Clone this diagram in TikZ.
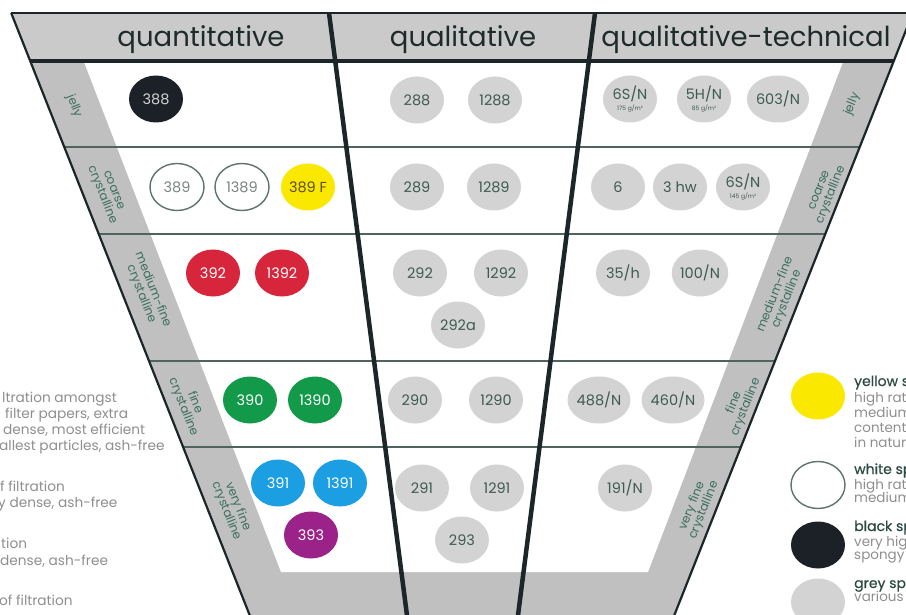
\documentclass[tikz,border=0pt]{standalone}
\usepackage{fontspec}
\setmainfont{Poppins}
\newfontfamily\legfont[FakeBold=0.6]{Poppins}
\usetikzlibrary{shapes.geometric}
\definecolor{hdrgray}{HTML}{CACACA}
\definecolor{stripgray}{HTML}{C0C0C0}
\definecolor{darkline}{HTML}{1C2628}
\definecolor{rowline}{HTML}{4E645D}
\definecolor{lblgreen}{HTML}{3A6E5E}
\definecolor{hdrtext}{HTML}{1E2B2A}
\definecolor{bubgray}{HTML}{D3D3D3}
\definecolor{bubtext}{HTML}{3E5A52}
\definecolor{bubblack}{HTML}{1B2127}
\definecolor{bubred}{HTML}{D7253B}
\definecolor{bubgreen}{HTML}{129A4A}
\definecolor{bubblue}{HTML}{1C9EE3}
\definecolor{bubpurple}{HTML}{9B2288}
\definecolor{bubyellow}{HTML}{FBE800}
\definecolor{yelltext}{HTML}{5C4D1E}
\definecolor{whiteline}{HTML}{5E736C}
\definecolor{whitetext}{HTML}{7A8580}
\definecolor{sidegray}{HTML}{8E8E8E}
\definecolor{legtitle}{HTML}{2D4A42}
\begin{document}
\begin{tikzpicture}[x=1pt,y=-1pt,
  hdr/.style={anchor=base,font=\fontsize{27.5}{28}\selectfont,text=hdrtext,inner sep=0pt},
  rowlbl/.style={font=\fontsize{12}{12.5}\selectfont,text=lblgreen,align=center,inner sep=0pt},
  lrow/.style={rowlbl,rotate=-68.4},
  rrow/.style={rowlbl,rotate=68.4},
  bub/.style={ellipse,minimum width=54pt,minimum height=47pt,inner sep=0pt,
    font=\fontsize{14.5}{15}\selectfont,align=center},
  gbub/.style={bub,fill=bubgray,text=bubtext},
  wbub/.style={bub,fill=white,draw=whiteline,line width=1.4pt,text=whitetext},
  cbub/.style={bub,fill=#1,text=white},
  sidetxt/.style={anchor=base west,font=\fontsize{13.7}{14}\selectfont,text=sidegray,inner sep=0pt},
  legt/.style={anchor=base west,font=\fontsize{14}{15}\selectfont\legfont,text=legtitle,inner sep=0pt},
  legb/.style={anchor=base west,font=\fontsize{13.5}{15}\selectfont,text=sidegray,inner sep=0pt},
  rowrule/.style={draw=rowline,line width=1.5pt},
  divider/.style={draw=darkline,line width=4.5pt},
  edge/.style={draw=darkline,line width=2.2pt}
]
\useasboundingbox (0,0) rectangle (906,615);
% funnel body
\fill[stripgray] (11.2,13) -- (912.8,13) -- (672.4,620) -- (251.6,620) -- cycle;
\fill[white] (84,62) -- (843,62) -- (648,572) -- (281,572) -- cycle;
% row rules
\draw[rowrule] (64.3,147) -- (859.7,147);
\draw[rowrule] (98.7,234) -- (825.3,234);
\draw[rowrule] (149.0,361) -- (775.0,361);
\draw[rowrule] (183.1,447) -- (740.9,447);
% header band
\fill[hdrgray] (11.2,13) -- (912.8,13) -- (893.8,61) -- (30.2,61) -- cycle;
\draw[draw=darkline,line width=4pt] (30.2,61) -- (893.8,61);
% dividers
\draw[divider] (329,13) -- (407.6,620);
\draw[divider] (595,13) -- (517.4,620);
% outer edges
\draw[edge] (11.2,13) -- (251.6,620);
\draw[edge] (912.8,13) -- (672.4,620);
\draw[draw=darkline,line width=2pt] (11.2,13) -- (912.8,13);
% header texts
\node[hdr] (h1) at (201,47) {quantitative};
\node[hdr] (h2) at (463,47) {qualitative};
\node[hdr] (h3) at (746,47) {qualitative-technical};
% row labels left
\node[lrow] (l1) at (74,106) {jelly};
\node[lrow] (l2) at (107,193) {coarse\\crystalline};
\node[lrow] (l3) at (147,292) {medium-fine\\crystalline};
\node[lrow] (l4) at (189,405) {fine\\crystalline};
\node[lrow] (l5) at (232,509) {very fine\\crystalline};
% row labels right
\node[rrow] (r1) at (852,104) {jelly};
\node[rrow] (r2) at (826,193) {coarse\\crystalline};
\node[rrow] (r3) at (781,297) {medium-fine\\crystalline};
\node[rrow] (r4) at (740,405) {fine\\crystalline};
\node[rrow] (r5) at (698,508) {very fine\\crystalline};
% row 1
\node[bub,fill=bubblack,text=bubgray] (b388) at (156,99) {388};
\node[gbub] (b288) at (417,100) {288};
\node[gbub] (b1288) at (495,100) {1288};
\node[gbub] (b6SNa) at (630,99) {6S/N\\[-4pt]{\fontsize{6}{6}\selectfont 175 g/m²}};
\node[gbub] (b5HN) at (704,99) {5H/N\\[-4pt]{\fontsize{6}{6}\selectfont 85 g/m²}};
\node[gbub] (b603N) at (778,99) {603/N};
% row 2
\node[wbub] (b389) at (177,187) {389};
\node[wbub] (b1389) at (242,187) {1389};
\node[bub,fill=bubyellow,text=yelltext] (b389F) at (308,187) {389 F};
\node[gbub] (b289) at (417,187) {289};
\node[gbub] (b1289) at (494,187) {1289};
\node[gbub] (b6) at (618,187) {6};
\node[gbub] (b3hw) at (680,187) {3 hw};
\node[gbub] (b6SNb) at (743,187) {6S/N\\[-4pt]{\fontsize{6}{6}\selectfont 145 g/m²}};
% row 3
\node[cbub=bubred] (b392) at (213,273) {392};
\node[cbub=bubred] (b1392) at (282,273) {1392};
\node[gbub] (b292) at (420,273) {292};
\node[gbub] (b1292) at (501,273) {1292};
\node[gbub] (b292a) at (458,325) {292a};
\node[gbub] (b35h) at (623,273) {35/h};
\node[gbub] (b100N) at (700,273) {100/N};
% row 4
\node[cbub=bubgreen] (b390) at (250,400) {390};
\node[cbub=bubgreen] (b1390) at (315,400) {1390};
\node[gbub] (b290) at (415,400) {290};
\node[gbub] (b1290) at (496,400) {1290};
\node[gbub] (b488N) at (599,400) {488/N};
\node[gbub] (b460N) at (673,400) {460/N};
% row 5
\node[cbub=bubblue] (b391) at (278,483) {391};
\node[cbub=bubblue] (b1391) at (340,483) {1391};
\node[cbub=bubpurple] (b393) at (311,535) {393};
\node[gbub] (b291) at (422,488) {291};
\node[gbub] (b1291) at (497,488) {1291};
\node[gbub] (b293) at (462,540) {293};
\node[gbub] (b191N) at (625,488) {191/N};
% left side texts
\node[sidetxt] (s1) at (2,402) {ltration amongst};
\node[sidetxt] (s2) at (5,418) {filter papers, extra};
\node[sidetxt] (s3) at (3,434) {dense, most efficient};
\node[sidetxt] (s4) at (-1,450) {allest particles, ash-free};
\node[sidetxt] (s5) at (0,491) {f filtration};
\node[sidetxt] (s6) at (-2,507) {y dense, ash-free};
\node[sidetxt] (s7) at (1,548) {tion};
\node[sidetxt] (s8) at (0,565) {dense, ash-free};
\node[sidetxt] (s9) at (-1,605) {of filtration};
% legend
\node[bub,fill=bubyellow] (gy) at (818,396) {};
\node[wbub] (gw) at (818,485) {};
\node[bub,fill=bubblack] (gk) at (818,545) {};
\node[bub,fill=bubgray] (gg) at (818,602) {};
\node[legt] (ty) at (854,386) {yellow s};
\node[legb] (ty1) at (854,402) {high rat};
\node[legb] (ty2) at (854,417) {medium};
\node[legb] (ty3) at (854,432) {content,};
\node[legb] (ty4) at (854,447) {in natur};
\node[legt] (tw) at (854,474) {white sp};
\node[legb] (tw1) at (854,489) {high rat};
\node[legb] (tw2) at (854,502) {medium};
\node[legt] (tk) at (854,531) {black sp};
\node[legb] (tk1) at (854,546) {very hig};
\node[legb] (tk2) at (854,559) {spongy};
\node[legt] (tg) at (854,588) {grey sp};
\node[legb] (tg1) at (854,601) {various};
\end{tikzpicture}
\end{document}
